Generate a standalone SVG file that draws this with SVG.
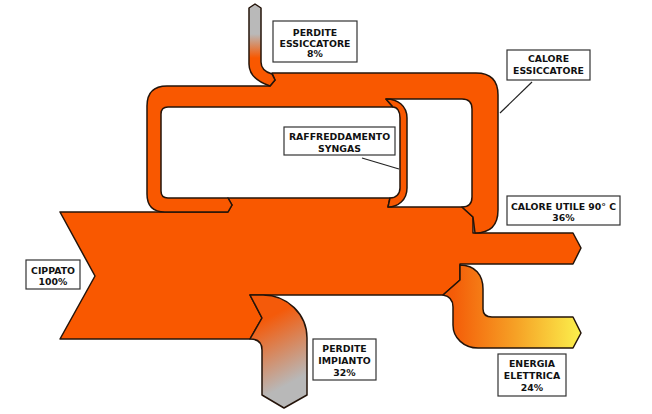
<svg xmlns="http://www.w3.org/2000/svg" width="652" height="414" viewBox="0 0 652 414">
<style>
.flow{stroke:#24140a;stroke-width:1.5;stroke-linejoin:round}
.or{fill:#f95800}
.box{fill:#fff;stroke:#333;stroke-width:1.2}
.lbl{font-family:"DejaVu Sans",Verdana,sans-serif;font-weight:bold;font-size:9.33px;fill:#111;text-anchor:middle}
.lead{stroke:#222;stroke-width:1.2;fill:none}
</style>
<defs>
<linearGradient id="gEss" gradientUnits="userSpaceOnUse" x1="0" y1="34" x2="0" y2="58">
<stop offset="0" stop-color="#b9b9b9"/><stop offset="1" stop-color="#f95800"/>
</linearGradient>
<linearGradient id="gImp" gradientUnits="userSpaceOnUse" x1="268" y1="318" x2="300" y2="378">
<stop offset="0" stop-color="#f45a0a"/><stop offset="1" stop-color="#b8b8b8"/>
</linearGradient>
<linearGradient id="gEn" gradientUnits="userSpaceOnUse" x1="453" y1="0" x2="580" y2="0">
<stop offset="0" stop-color="#f45c08"/><stop offset="0.5" stop-color="#f6a226"/><stop offset="1" stop-color="#fbef4c"/>
</linearGradient>
</defs>
<g id="flows">
<path id="main" class="flow or" d="M60,212 L228,212 L232,205 L228,198 L390,198 L388,207 L462,207 L473,217 L473,233 L573,233 L581,248 L573,264 L460,264 L460,280 L443,295 L250,295 L262,318 L250,339 L60,339 L95,276 Z"/>
<path id="perdite-impianto" class="flow" fill="url(#gImp)" d="M250,295 L263,295 A44,43 0 0 1 307,338 L307,395 L284,408 L262,395 L262,350 Q262,339 250,339 L262,318 Z"/>
<path id="energia" class="flow" fill="url(#gEn)" d="M443,295 L460,280 L460,265 C475,265 483,275 483,289 L483,309 Q483,317 492,317 L573,317 L581,333 L573,348 L478,348 C464,348 453,338 453,325 L453,307 C453,300 449,296 443,295 Z"/>
<path id="loop" class="flow or" d="M462,207 L473,217 L475,233 Q498,233 498,210 L498,95 Q498,73 476,73 L272,73 L275,80 L270,86 L167,86 Q147,86 147,106 L147,194 Q147,212 165,212 L228,212 L232,205 L228,198 L168,198 Q161,198 161,191 L161,114 Q161,107 168,107 L393,107 L386,99 L462,99 Q472,99 472,109 L472,197 Q472,207 462,207 Z"/>
<path id="syngas" class="flow or" d="M386,99 C398,99 407,106 407,118 L407,188 C407,200 398,207 388,207 L390,198 C396,198 400,194 400,188 L400,118 C400,111 397,107 393,107 Z"/>
<path id="perdite-ess" class="flow" fill="url(#gEss)" d="M249,8 L255,4 L261,8 L261,62 C261,68 265,72 272,74 L275,80 L270,86 C258,82 249,75 249,64 Z"/>
</g>
<g id="leaders">
<line class="lead" x1="532" y1="82" x2="500" y2="113"/>
<line class="lead" x1="362" y1="158" x2="399" y2="169"/>
</g>
<g id="n-perdite-essiccatore">
<rect class="box" x="273" y="21" width="84" height="41"/>
<text class="lbl" x="315" y="35.5">PERDITE</text>
<text class="lbl" x="315" y="46.5">ESSICCATORE</text>
<text class="lbl" x="315" y="57">8%</text>
</g>
<g id="n-calore-essiccatore">
<rect class="box" x="507" y="50" width="83" height="30"/>
<text class="lbl" x="548.5" y="62">CALORE</text>
<text class="lbl" x="548.5" y="74">ESSICCATORE</text>
</g>
<g id="n-raffreddamento">
<rect class="box" x="284" y="127" width="111" height="28"/>
<text class="lbl" x="339.5" y="139.5">RAFFREDDAMENTO</text>
<text class="lbl" x="339.5" y="151.5">SYNGAS</text>
</g>
<g id="n-calore-utile">
<rect class="box" x="507" y="196" width="113" height="29"/>
<text class="lbl" x="563.5" y="209.5">CALORE UTILE 90° C</text>
<text class="lbl" x="563.5" y="221">36%</text>
</g>
<g id="n-cippato">
<rect class="box" x="26" y="260" width="54" height="29"/>
<text class="lbl" x="53" y="273.5">CIPPATO</text>
<text class="lbl" x="53" y="285">100%</text>
</g>
<g id="n-perdite-impianto">
<rect class="box" x="313" y="339" width="63" height="41"/>
<text class="lbl" x="344.5" y="351.5">PERDITE</text>
<text class="lbl" x="344.5" y="363.5">IMPIANTO</text>
<text class="lbl" x="344.5" y="375.5">32%</text>
</g>
<g id="n-energia">
<rect class="box" x="498" y="354" width="68" height="42"/>
<text class="lbl" x="532" y="366.5">ENERGIA</text>
<text class="lbl" x="532" y="378.5">ELETTRICA</text>
<text class="lbl" x="532" y="390.5">24%</text>
</g>
</svg>
